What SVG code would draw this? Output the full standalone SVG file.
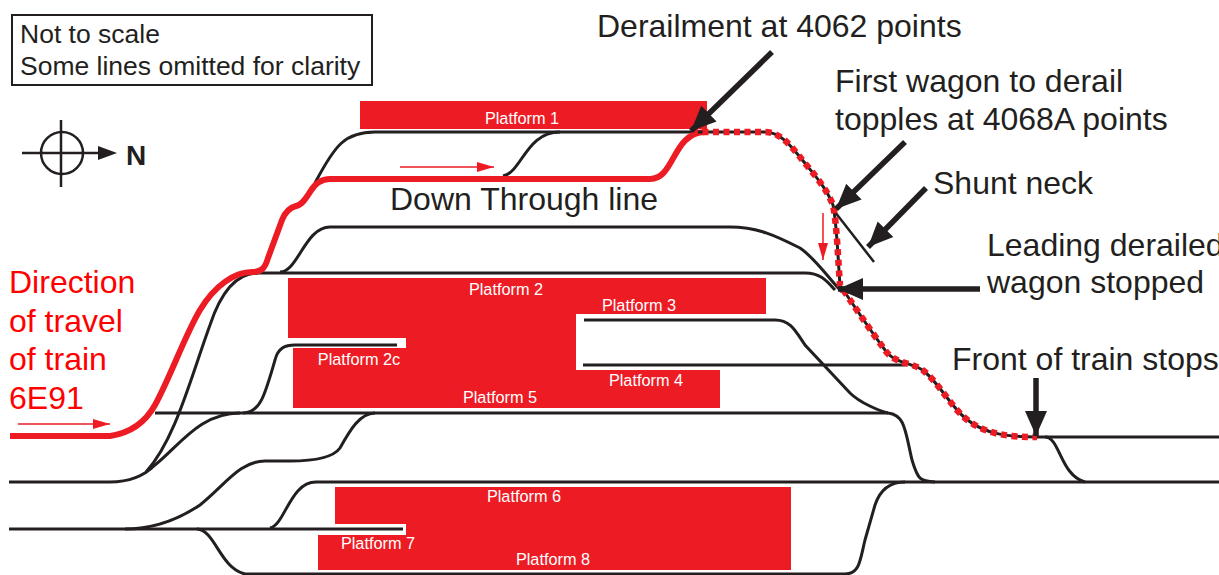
<svg xmlns="http://www.w3.org/2000/svg" width="1219" height="575" viewBox="0 0 1219 575">
<style>
text{font-family:"Liberation Sans",Arial,sans-serif;fill:#231f20}
.t{font-size:32px}
.n{font-size:26.5px}
.p{font-size:16.3px;fill:#fff;stroke:none;text-anchor:middle}
.r{font-size:32px;fill:#f00}
.plat{fill:#ed1c24;stroke:none}
.trk{fill:none;stroke:#231f20;stroke-width:3}
.red{fill:none;stroke:#ed1c24;stroke-width:6}
.dot{fill:none;stroke:#ed1c24;stroke-width:6.5;stroke-dasharray:6 4.5}
.call{fill:none;stroke:#231f20;stroke-width:5.5}
.thin{fill:none;stroke:#ed1c24;stroke-width:1.5}
</style>
<defs>
<marker id="ah" markerUnits="userSpaceOnUse" markerWidth="26" markerHeight="24" refX="25" refY="12" orient="auto"><path d="M0 1L25 12L0 23Z" fill="#231f20"/></marker>
<marker id="ar" markerUnits="userSpaceOnUse" markerWidth="18" markerHeight="12" refX="17" refY="5" orient="auto"><path d="M0 0L17 5L0 10Z" fill="#ed1c24"/></marker>
</defs>
<rect width="1219" height="575" fill="#fff"/>
<g id="platforms">
<rect class="plat" x="360" y="101" width="347" height="28"/>
<path class="plat" d="M288 278H766V314H576V370H720V408H293V348H406V338H288Z"/>
<path class="plat" d="M335 487H791V570H318V535H406V524H335Z"/>
</g>
<g id="connectors">
<path class="trk" d="M315 183C335 145 345 132 375 132H695"/>
<path class="trk" d="M503 176C522 172 526 132 560 132"/>
<path class="trk" d="M280 272C298 272 305 227 330 227H730C760 227 780 238 800 248C815 258 830 280 842 292"/>
<path class="trk" d="M250 273H805C820 273 826 280 835 290"/>
<path class="trk" d="M146 472C175 440 190 380 210 325C220 295 235 273 258 273"/>
<path class="trk" d="M155 413H888"/>
<path class="trk" d="M243 413C260 413 265 395 275 360C278 348 285 345 295 345H397"/>
<path class="trk" d="M584 320H775C790 320 795 330 805 345L850 393C860 403 880 411 888 413C905 415 905 430 912 460C918 480 920 481 935 482"/>
<path class="trk" d="M583 365H905"/>
<path class="trk" d="M9 482H110C130 482 145 475 155 465C180 445 200 413 240 413"/>
<path class="trk" d="M316 482H1219"/>
<path class="trk" d="M845 574C860 574 860 560 865 540L875 505C880 490 890 482 905 482"/>
<path class="trk" d="M9 529H403"/>
<path class="trk" d="M125 529C160 529 185 515 200 505C225 485 240 461 265 461H290C320 461 335 455 340 448C350 430 360 413 375 413"/>
<path class="trk" d="M270 528C285 525 290 482 316 482"/>
<path class="trk" d="M197 529C215 530 220 568 245 574H845"/>
<path class="trk" d="M1037 437H1219"/>
<path class="trk" d="M1045 437C1060 437 1060 475 1085 482"/>
<path d="M835 212L874 262" fill="none" stroke="#231f20" stroke-width="2.5"/>
<path class="red" d="M10 436H110C130 433 145 423 155 405C170 378 185 335 200 310C215 285 235 272 252 272C262 272 265 268 268 258L282 220C286 210 292 207 296 206C302 205 306 198 310 192C314 185 320 179 330 179H650C675 179 672 133 705 132"/>
<path class="trk" id="derail-b" d="M692 132H765C780 132 790 145 800 157C810 170 825 185 833 205C837 225 838 260 840 285C850 300 870 330 885 350C895 365 915 362 925 372C940 385 950 405 965 418C985 435 1010 437 1037 437"/>
<path class="dot" id="derail-r" d="M692 132H765C780 132 790 145 800 157C810 170 825 185 833 205C837 225 838 260 840 285C850 300 870 330 885 350C895 365 915 362 925 372C940 385 950 405 965 418C985 435 1010 437 1037 437"/>
<path class="thin" marker-end="url(#ar)" d="M400 167H494"/>
<path class="thin" marker-end="url(#ar)" d="M18 424H110"/>
<path class="thin" marker-end="url(#ar)" d="M823 213V260"/>
<path class="call" marker-end="url(#ah)" d="M772 52L691 131"/>
<path class="call" marker-end="url(#ah)" d="M905 142L836 209"/>
<path class="call" marker-end="url(#ah)" d="M926 188L868 247"/>
<path class="call" marker-end="url(#ah)" d="M980 289H838"/>
<path class="call" marker-end="url(#ah)" d="M1036 378V436"/>
</g>
<g id="compass">
<circle cx="62" cy="153" r="21" fill="none" stroke="#231f20" stroke-width="2.5"/>
<path d="M22 153H100M61 120V187" fill="none" stroke="#231f20" stroke-width="2.5"/>
<path d="M98 146L117 153L98 160Z" fill="#231f20"/>
<text x="126" y="165" font-size="28" font-weight="bold">N</text>
</g>
<g id="note">
<rect x="12" y="15" width="360" height="70" fill="none" stroke="#231f20" stroke-width="2"/>
<text class="n" x="20" y="43">Not to scale</text>
<text class="n" x="20" y="75">Some lines omitted for clarity</text>
</g>
<g id="labels">
<text class="t" x="597" y="37">Derailment at 4062 points</text>
<text class="t" x="835" y="92">First wagon to derail</text>
<text class="t" x="835" y="130">topples at 4068A points</text>
<text class="t" x="933" y="194">Shunt neck</text>
<text class="t" x="390" y="210">Down Through line</text>
<text class="t" x="987" y="256">Leading derailed</text>
<text class="t" x="987" y="293">wagon stopped</text>
<text class="t" x="952" y="370">Front of train stops</text>
<text class="r" x="9" y="293">Direction</text>
<text class="r" x="9" y="332">of travel</text>
<text class="r" x="9" y="370">of train</text>
<text class="r" x="9" y="409">6E91</text>
<text class="p" x="522" y="124">Platform 1</text>
<text class="p" x="506" y="295">Platform 2</text>
<text class="p" x="639" y="311">Platform 3</text>
<text class="p" x="359" y="365">Platform 2c</text>
<text class="p" x="646" y="386">Platform 4</text>
<text class="p" x="500" y="403">Platform 5</text>
<text class="p" x="524" y="502">Platform 6</text>
<text class="p" x="378" y="549">Platform 7</text>
<text class="p" x="553" y="565">Platform 8</text>
</g>
</svg>
